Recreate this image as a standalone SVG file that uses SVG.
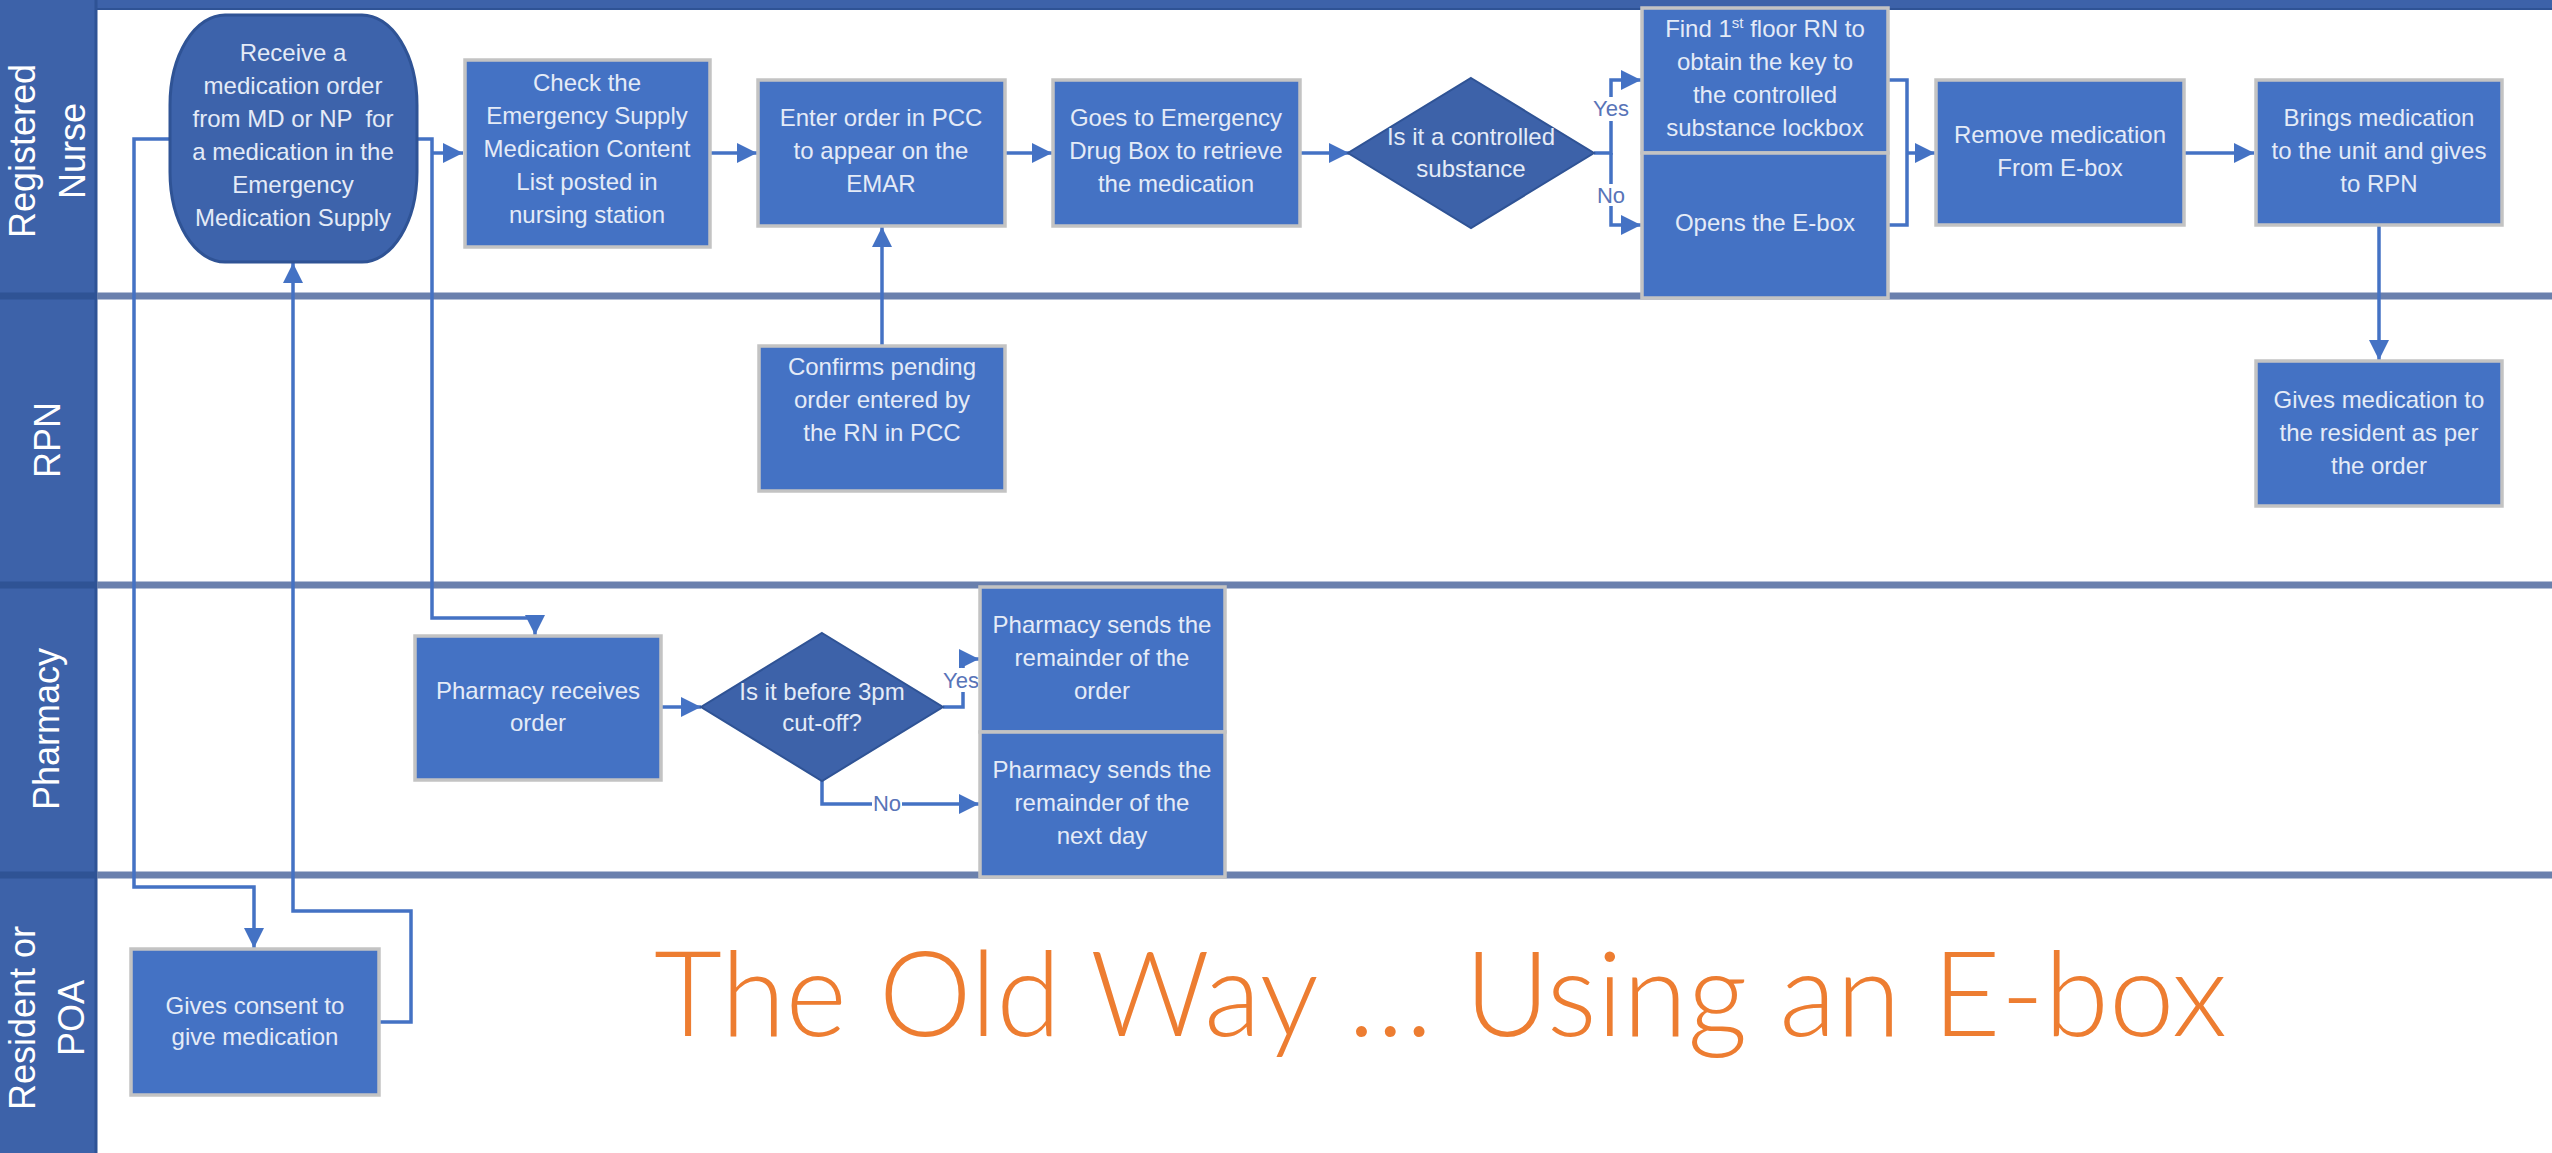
<svg xmlns="http://www.w3.org/2000/svg" width="2552" height="1153" viewBox="0 0 2552 1153">
<style>
.lane{fill:#3d62a9}
.sep{stroke:#6a80ad;stroke-width:7}
.hsep{stroke:#2f5395;stroke-width:7}
.hdr{font-family:"Liberation Sans",Arial,sans-serif;font-size:36px;fill:#ffffff;text-anchor:middle}
.box{fill:#4472c4;stroke:#c3c3c3;stroke-width:3.5}
.dia{fill:#3d62a9;stroke:#2f5395;stroke-width:2}
.oval{fill:#3d63ab;stroke:#2f5395;stroke-width:3}
.t{font-family:"Liberation Sans",Arial,sans-serif;font-size:24px;fill:#e4ebf7;text-anchor:middle}
.c{fill:none;stroke:#4472c4;stroke-width:3.5}
.lbl{font-family:"Liberation Sans",Arial,sans-serif;font-size:22px;fill:#5874b8;text-anchor:middle}
.title{font-family:Lato,"Liberation Sans",Arial,sans-serif;font-weight:300;font-size:118px;fill:#ed7d31}
</style>
<defs>
<marker id="ah" viewBox="0 0 20 20" refX="20" refY="10" markerWidth="20" markerHeight="20" markerUnits="userSpaceOnUse" orient="auto">
<path d="M0,0 L20,10 L0,20 z" fill="#4472c4"/>
</marker>
</defs>
<rect width="2552" height="1153" fill="#ffffff"/>
<g id="lanes">
<rect x="0" y="0" width="2552" height="10" class="lane"/>
<line x1="0" y1="9" x2="2552" y2="9" stroke="#2f5395" stroke-width="2"/>
<rect x="0" y="0" width="97" height="1153" class="lane"/>
<line x1="96" y1="0" x2="96" y2="1153" stroke="#2f5395" stroke-width="3"/>
<line x1="97" y1="296" x2="2552" y2="296" class="sep"/>
<line x1="97" y1="585" x2="2552" y2="585" class="sep"/>
<line x1="97" y1="875" x2="2552" y2="875" class="sep"/>
<line x1="0" y1="296" x2="97" y2="296" class="hsep"/>
<line x1="0" y1="585" x2="97" y2="585" class="hsep"/>
<line x1="0" y1="875" x2="97" y2="875" class="hsep"/>
<text class="hdr" transform="translate(35,151) rotate(-90)">Registered</text>
<text class="hdr" transform="translate(85,151) rotate(-90)">Nurse</text>
<text class="hdr" transform="translate(60,440) rotate(-90)">RPN</text>
<text class="hdr" transform="translate(59,729) rotate(-90)">Pharmacy</text>
<text class="hdr" transform="translate(35,1018) rotate(-90)">Resident or</text>
<text class="hdr" transform="translate(84,1018) rotate(-90)">POA</text>
</g>
<g id="connectors">
<path class="c" d="M417,139 H432 V618 H535 V635" marker-end="url(#ah)"/>
<path class="c" d="M432,153 H463" marker-end="url(#ah)"/>
<path class="c" d="M169,139 H134 V887 H254 V948" marker-end="url(#ah)"/>
<path class="c" d="M379,1022 H411 V911 H293 V263" marker-end="url(#ah)"/>
<path class="c" d="M710,153 H757" marker-end="url(#ah)"/>
<path class="c" d="M1005,153 H1052" marker-end="url(#ah)"/>
<path class="c" d="M1300,153 H1349" marker-end="url(#ah)"/>
<path class="c" d="M882,346 V227" marker-end="url(#ah)"/>
<path class="c" d="M1594,153 H1611 V80 H1641" marker-end="url(#ah)"/>
<path class="c" d="M1611,153 V225 H1641" marker-end="url(#ah)"/>
<path class="c" d="M1888,80 H1907 V225 H1888"/>
<path class="c" d="M1907,153 H1935" marker-end="url(#ah)"/>
<path class="c" d="M2184,153 H2254" marker-end="url(#ah)"/>
<path class="c" d="M2379,225 V360" marker-end="url(#ah)"/>
<path class="c" d="M661,707 H701" marker-end="url(#ah)"/>
<path class="c" d="M943,707 H963 V659 H979" marker-end="url(#ah)"/>
<path class="c" d="M822,780 V804 H979" marker-end="url(#ah)"/>
<rect x="1592" y="97" width="38" height="24" fill="#ffffff"/>
<text class="lbl" x="1611" y="116">Yes</text>
<rect x="1596" y="184" width="30" height="22" fill="#ffffff"/>
<text class="lbl" x="1611" y="203">No</text>
<rect x="942" y="668" width="38" height="24" fill="#ffffff"/>
<text class="lbl" x="961" y="688">Yes</text>
<rect x="872" y="792" width="30" height="22" fill="#ffffff"/>
<text class="lbl" x="887" y="811">No</text>
</g>
<g id="receive">
<rect class="oval" x="170" y="15" width="247" height="247" rx="55" ry="90"/>
<text class="t" style="white-space:pre"><tspan x="293" y="61">Receive a</tspan><tspan x="293" y="94">medication order</tspan><tspan x="293" y="127">from MD or NP  for</tspan><tspan x="293" y="160">a medication in the</tspan><tspan x="293" y="193">Emergency</tspan><tspan x="293" y="226">Medication Supply</tspan></text>
</g>
<g id="check">
<rect class="box" x="465" y="60" width="245" height="187"/>
<text class="t"><tspan x="587" y="91">Check the</tspan><tspan x="587" y="124">Emergency Supply</tspan><tspan x="587" y="157">Medication Content</tspan><tspan x="587" y="190">List posted in</tspan><tspan x="587" y="223">nursing station</tspan></text>
</g>
<g id="enter">
<rect class="box" x="758" y="80" width="247" height="146"/>
<text class="t"><tspan x="881" y="126">Enter order in PCC</tspan><tspan x="881" y="159">to appear on the</tspan><tspan x="881" y="192">EMAR</tspan></text>
</g>
<g id="goes">
<rect class="box" x="1053" y="80" width="247" height="146"/>
<text class="t"><tspan x="1176" y="126">Goes to Emergency</tspan><tspan x="1176" y="159">Drug Box to retrieve</tspan><tspan x="1176" y="192">the medication</tspan></text>
</g>
<g id="controlled">
<polygon class="dia" points="1471,78 1594,153 1471,228 1348,153"/>
<text class="t"><tspan x="1471" y="145">Is it a controlled</tspan><tspan x="1471" y="177">substance</tspan></text>
</g>
<g id="find">
<rect class="box" x="1642" y="8" width="246" height="145"/>
<text class="t"><tspan x="1765" y="37">Find 1<tspan font-size="15" dy="-9">st</tspan><tspan dy="9"> floor RN to</tspan></tspan><tspan x="1765" y="70">obtain the key to</tspan><tspan x="1765" y="103">the controlled</tspan><tspan x="1765" y="136">substance lockbox</tspan></text>
</g>
<g id="opens">
<rect class="box" x="1642" y="153" width="246" height="145"/>
<text class="t" x="1765" y="231">Opens the E-box</text>
</g>
<g id="remove">
<rect class="box" x="1936" y="80" width="248" height="145"/>
<text class="t"><tspan x="2060" y="143">Remove medication</tspan><tspan x="2060" y="176">From E-box</tspan></text>
</g>
<g id="brings">
<rect class="box" x="2256" y="80" width="246" height="145"/>
<text class="t"><tspan x="2379" y="126">Brings medication</tspan><tspan x="2379" y="159">to the unit and gives</tspan><tspan x="2379" y="192">to RPN</tspan></text>
</g>
<g id="gives">
<rect class="box" x="2256" y="361" width="246" height="145"/>
<text class="t"><tspan x="2379" y="408">Gives medication to</tspan><tspan x="2379" y="441">the resident as per</tspan><tspan x="2379" y="474">the order</tspan></text>
</g>
<g id="confirms">
<rect class="box" x="759" y="346" width="246" height="145"/>
<text class="t"><tspan x="882" y="375">Confirms pending</tspan><tspan x="882" y="408">order entered by</tspan><tspan x="882" y="441">the RN in PCC</tspan></text>
</g>
<g id="pharmreceives">
<rect class="box" x="415" y="636" width="246" height="144"/>
<text class="t"><tspan x="538" y="699">Pharmacy receives</tspan><tspan x="538" y="731">order</tspan></text>
</g>
<g id="cutoff">
<polygon class="dia" points="822,633 943,707 822,781 701,707"/>
<text class="t"><tspan x="822" y="700">Is it before 3pm</tspan><tspan x="822" y="731">cut-off?</tspan></text>
</g>
<g id="sendsorder">
<rect class="box" x="980" y="587" width="245" height="145"/>
<text class="t"><tspan x="1102" y="633">Pharmacy sends the</tspan><tspan x="1102" y="666">remainder of the</tspan><tspan x="1102" y="699">order</tspan></text>
</g>
<g id="sendsnext">
<rect class="box" x="980" y="732" width="245" height="145"/>
<text class="t"><tspan x="1102" y="778">Pharmacy sends the</tspan><tspan x="1102" y="811">remainder of the</tspan><tspan x="1102" y="844">next day</tspan></text>
</g>
<g id="consent">
<rect class="box" x="131" y="949" width="248" height="146"/>
<text class="t"><tspan x="255" y="1014">Gives consent to</tspan><tspan x="255" y="1045">give medication</tspan></text>
</g>
<text class="title" x="654" y="1036" textLength="1573" lengthAdjust="spacingAndGlyphs">The Old Way … Using an E-box</text>
</svg>
